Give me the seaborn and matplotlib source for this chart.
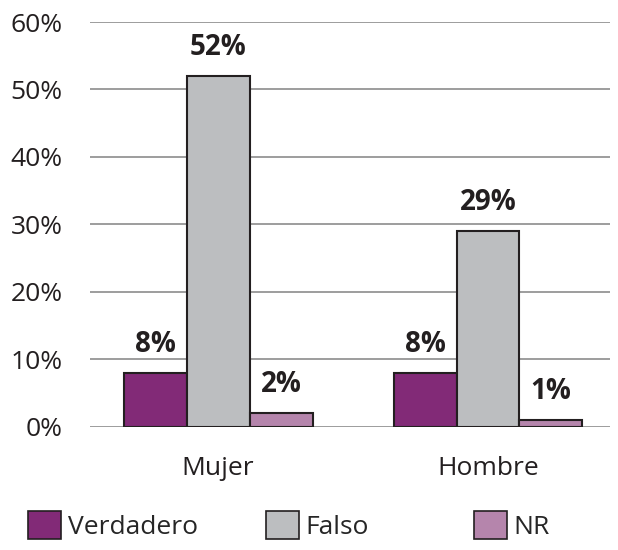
import numpy as np
import pandas as pd
import matplotlib
matplotlib.use("Agg")
import matplotlib.pyplot as plt
import seaborn as sns
from matplotlib.patches import Patch
from matplotlib.ticker import FuncFormatter

# Data
groups = ["Mujer", "Hombre"]
answers = ["Verdadero", "Falso", "NR"]
verdadero = [8, 8]
falso = [52, 29]
nr = [2, 1]
colors = ["#822A77", "#BCBEC0", "#B585AC"]

df = pd.DataFrame({
    "grupo": groups * 3,
    "respuesta": [a for a in answers for _ in groups],
    "valor": verdadero + falso + nr,
})

sns.set_style("white")
plt.rcParams["font.family"] = ["Open Sans", "DejaVu Sans"]

fig = plt.figure(figsize=(6.18, 5.5), dpi=100)
ax = fig.add_axes([0.146, 0.224, 0.841, 0.736])

sns.barplot(data=df, x="grupo", y="valor", hue="respuesta", order=groups,
            hue_order=answers, palette=colors, width=0.70, edgecolor="#231F20",
            linewidth=1.5, saturation=1, legend=False, ax=ax)

for cont in ax.containers:
    ax.bar_label(cont, fmt="%d%%", padding=10, fontsize=20, fontweight="bold",
                 color="#231F20")

ax.set_xlim(-0.474, 1.452)
ax.set_ylim(0, 60)
ax.set_yticks(np.arange(0, 61, 10))
ax.yaxis.set_major_formatter(FuncFormatter(lambda v, p: f"{int(v)}%"))
ax.grid(axis="y", color="#9D9D9D", linewidth=1.4)
ax.set_axisbelow(True)
for s in ax.spines.values():
    s.set_visible(False)
ax.tick_params(axis="both", length=0, labelsize=19, colors="#231F20")
ax.tick_params(axis="y", pad=20)
ax.tick_params(axis="x", pad=21)
ax.set_xlabel("")
ax.set_ylabel("")

# legend entries sit at uneven positions in the original, so place each one
legend_x = [0.024, 0.409, 0.746]
for c, name, lx in zip(colors, answers, legend_x):
    h = Patch(facecolor=c, edgecolor="#231F20", linewidth=1.2)
    leg = fig.legend([h], [name], loc="lower left", bbox_to_anchor=(lx, -0.005),
                     frameon=False, fontsize=19, handlelength=1.25,
                     handleheight=1.25, handletextpad=0.25, borderaxespad=0.2,
                     borderpad=0.3)

fig.savefig("out.png", dpi=100)
